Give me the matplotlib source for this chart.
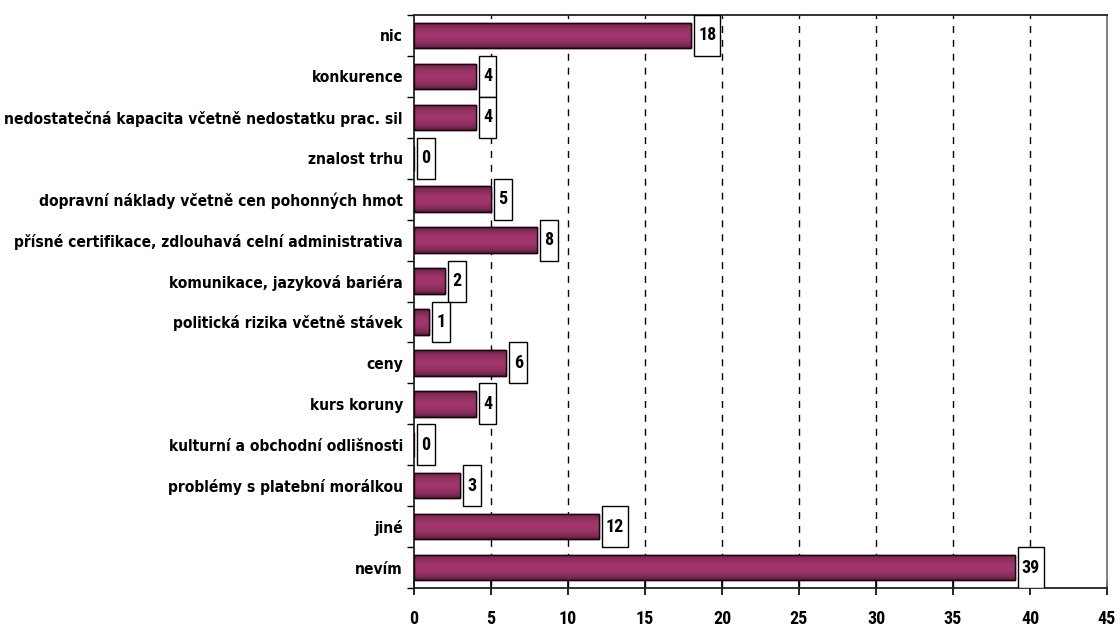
import numpy as np
import matplotlib
matplotlib.use("Agg")
import matplotlib.pyplot as plt
from matplotlib.patches import Rectangle

# data
categories = [
    "nic",
    "konkurence",
    "nedostatečná kapacita včetně nedostatku prac. sil",
    "znalost trhu",
    "dopravní náklady včetně cen pohonných hmot",
    "přísné certifikace, zdlouhavá celní administrativa",
    "komunikace, jazyková bariéra",
    "politická rizika včetně stávek",
    "ceny",
    "kurs koruny",
    "kulturní a obchodní odlišnosti",
    "problémy s platební morálkou",
    "jiné",
    "nevím",
]
values = [18, 4, 4, 0, 5, 8, 2, 1, 6, 4, 0, 3, 12, 39]
xticks = [0, 5, 10, 15, 20, 25, 30, 35, 40, 45]

label_font = dict(family=["DejaVu Sans"], fontstretch="condensed", fontweight="bold")
num_font = dict(family=["Roboto Condensed", "DejaVu Sans"], fontweight="bold")

fig = plt.figure(figsize=(11.2, 6.28), dpi=100)
ax = fig.add_axes([414 / 1120, 1 - 588 / 628, 693 / 1120, 573 / 628])

n = len(categories)
ypos = np.arange(n)
bar_h = 0.62

bars = ax.barh(ypos, values, height=bar_h, color="#993366",
               edgecolor="#1a0010", linewidth=1.0, zorder=3)

# shaded fill: dark rims top and bottom, lighter band in the middle
t = np.linspace(0, 1, 64)
shade = 0.45 + 0.6 * np.sin(np.pi * t) ** 0.5
base = np.array([0x99, 0x33, 0x66]) / 255
grad = np.clip(shade[:, None] * base[None, :], 0, 1)[:, None, :]
for b, v in zip(bars, values):
    if v <= 0:
        continue
    x0, y0 = b.get_x(), b.get_y()
    im = ax.imshow(grad, extent=[x0, x0 + v, y0 + bar_h, y0], aspect="auto",
                   zorder=3.5, interpolation="bilinear")
    im.set_clip_path(b)
    ax.add_patch(Rectangle((x0, y0), v, bar_h, fill=False,
                           edgecolor="#1a0010", linewidth=1.0, zorder=4))

# value boxes
for y, v in zip(ypos, values):
    txt = str(v)
    w = 0.6 + 0.55 * len(txt)
    ax.add_patch(Rectangle((v + 0.2, y - 0.5), w, 1.0, facecolor="white",
                           edgecolor="black", linewidth=1.0, zorder=5))
    ax.text(v + 0.2 + w / 2, y, txt, ha="center", va="center",
            fontsize=13, zorder=6, **num_font)

ax.set_xlim(0, 45)
ax.set_ylim(n - 0.5, -0.5)
ax.set_xticks(xticks)
ax.set_xticklabels([str(x) for x in xticks], fontsize=13, **num_font)
ax.tick_params(axis="x", direction="inout", length=10, width=1.2, pad=11)

ax.set_yticks(ypos)
ax.set_yticklabels(categories, fontsize=11.2, **label_font)
ax.tick_params(axis="y", length=0, pad=8)
ax.set_yticks(np.arange(n + 1) - 0.5, minor=True)
ax.tick_params(axis="y", which="minor", direction="out", length=5, width=1.0)

for x in xticks[1:-1]:
    ax.axvline(x, color="black", linestyle=(0, (5, 5)), linewidth=1.0, zorder=1)

for side in ["top", "bottom", "left"]:
    ax.spines[side].set_linewidth(1.3)
    ax.spines[side].set_color("#222222")
ax.spines["right"].set_color("#777777")
ax.spines["right"].set_linewidth(1.3)

fig.savefig("out.png", dpi=100)
